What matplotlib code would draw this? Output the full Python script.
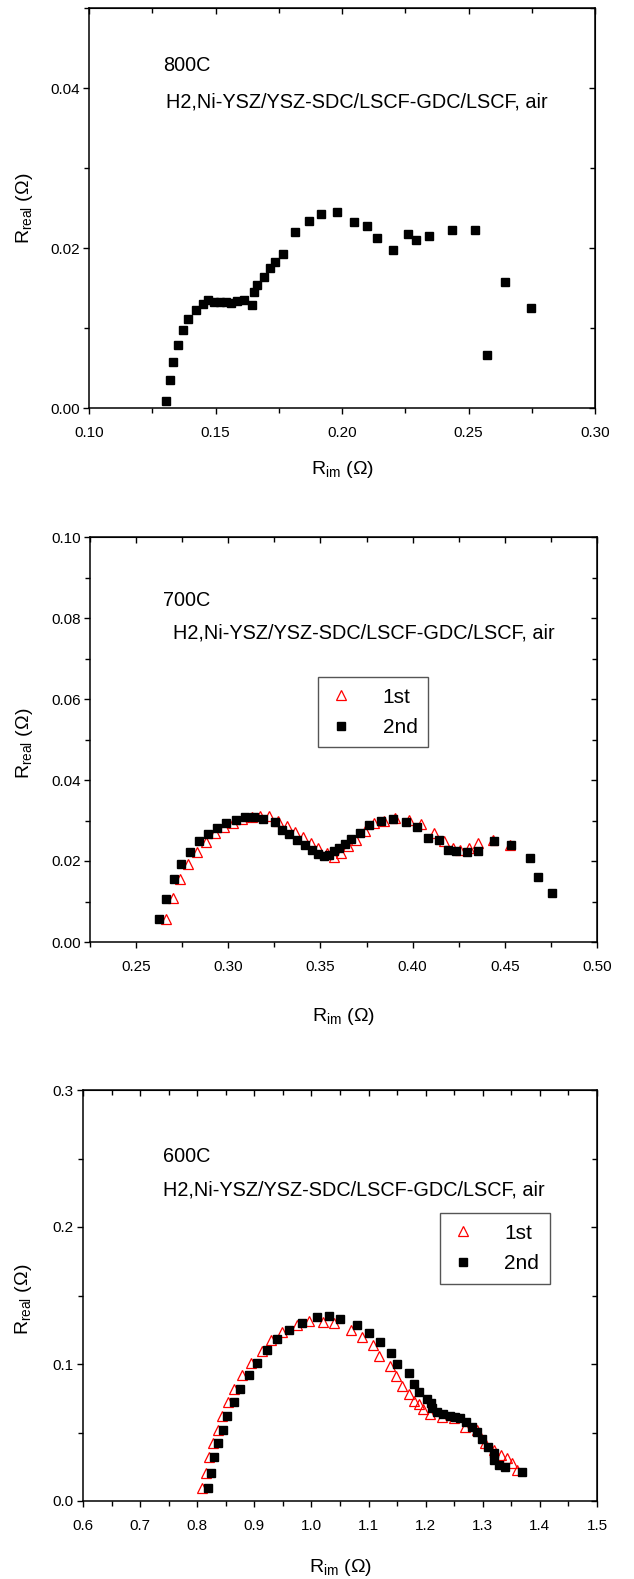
import numpy as np
import matplotlib
matplotlib.use("Agg")
import matplotlib.pyplot as plt
from matplotlib.ticker import MultipleLocator, FormatStrFormatter

plt.rcParams['font.family'] = ['Liberation Sans', 'DejaVu Sans']
plt.rcParams['mathtext.fontset'] = 'custom'
plt.rcParams['mathtext.rm'] = 'Liberation Sans'
plt.rcParams['mathtext.it'] = 'Liberation Sans:italic'

cell = "H2,Ni-YSZ/YSZ-SDC/LSCF-GDC/LSCF, air"

# 800C, single run
x800 = [0.1303, 0.1321, 0.1332, 0.1353, 0.1373, 0.1393, 0.1422, 0.1450, 0.1472,
        0.1496, 0.1519, 0.1541, 0.1561, 0.1585, 0.1614, 0.1644, 0.1653, 0.1664,
        0.1693, 0.1716, 0.1737, 0.1765, 0.1816, 0.1868, 0.1918, 0.1979, 0.2048,
        0.2097, 0.2139, 0.2201, 0.2262, 0.2292, 0.2343, 0.2433, 0.2524, 0.2573,
        0.2644, 0.2747]
y800 = [0.0009, 0.0035, 0.0058, 0.0079, 0.0097, 0.0111, 0.0123, 0.0130, 0.0135,
        0.0133, 0.0133, 0.0133, 0.0131, 0.0134, 0.0135, 0.0129, 0.0145, 0.0154,
        0.0164, 0.0175, 0.0182, 0.0193, 0.0220, 0.0234, 0.0243, 0.0245, 0.0233,
        0.0228, 0.0213, 0.0198, 0.0218, 0.0210, 0.0215, 0.0223, 0.0223, 0.0066,
        0.0158, 0.0125]

# 700C, first and second run
x700_1 = [0.2663, 0.2702, 0.2738, 0.2784, 0.2833, 0.2880, 0.2929, 0.2977, 0.3028,
          0.3077, 0.3126, 0.3173, 0.3222, 0.3272, 0.3321, 0.3364, 0.3408, 0.3449,
          0.3489, 0.3535, 0.3575, 0.3611, 0.3652, 0.3694, 0.3743, 0.3792, 0.3846,
          0.3906, 0.3978, 0.4046, 0.4114, 0.4169, 0.4218, 0.4259, 0.4304, 0.4355,
          0.4436, 0.4530]
y700_1 = [0.0057, 0.0109, 0.0156, 0.0193, 0.0223, 0.0246, 0.0268, 0.0284, 0.0294,
          0.0304, 0.0308, 0.0312, 0.0310, 0.0299, 0.0286, 0.0272, 0.0259, 0.0244,
          0.0233, 0.0220, 0.0210, 0.0220, 0.0238, 0.0253, 0.0274, 0.0293, 0.0300,
          0.0305, 0.0301, 0.0292, 0.0268, 0.0249, 0.0233, 0.0226, 0.0233, 0.0244,
          0.0253, 0.0239]
x700_2 = [0.2625, 0.2664, 0.2706, 0.2746, 0.2795, 0.2843, 0.2892, 0.2941, 0.2985,
          0.3042, 0.3091, 0.3140, 0.3191, 0.3254, 0.3294, 0.3332, 0.3374, 0.3415,
          0.3453, 0.3484, 0.3517, 0.3544, 0.3571, 0.3600, 0.3631, 0.3665, 0.3716,
          0.3764, 0.3826, 0.3893, 0.3965, 0.4025, 0.4084, 0.4144, 0.4193, 0.4235,
          0.4294, 0.4352, 0.4443, 0.4535, 0.4636, 0.4678, 0.4756]
y700_2 = [0.0057, 0.0107, 0.0156, 0.0193, 0.0223, 0.0249, 0.0267, 0.0282, 0.0295,
          0.0302, 0.0308, 0.0308, 0.0304, 0.0296, 0.0277, 0.0266, 0.0252, 0.0239,
          0.0228, 0.0217, 0.0212, 0.0216, 0.0224, 0.0231, 0.0241, 0.0254, 0.0269,
          0.0288, 0.0299, 0.0304, 0.0297, 0.0283, 0.0258, 0.0252, 0.0226, 0.0224,
          0.0221, 0.0224, 0.0249, 0.0240, 0.0207, 0.0160, 0.0120]

# 600C, first and second run
x600_1 = [0.809, 0.815, 0.821, 0.828, 0.836, 0.844, 0.854, 0.864, 0.878, 0.895,
          0.913, 0.930, 0.949, 0.974, 0.996, 1.020, 1.039, 1.069, 1.089, 1.108,
          1.119, 1.138, 1.148, 1.159, 1.170, 1.179, 1.188, 1.196, 1.208, 1.228,
          1.249, 1.269, 1.290, 1.304, 1.319, 1.332, 1.342, 1.351, 1.360]
y600_1 = [0.0098, 0.0202, 0.0319, 0.0426, 0.0518, 0.0623, 0.0720, 0.0818, 0.0920,
          0.1005, 0.1097, 0.1175, 0.1236, 0.1285, 0.1316, 0.1309, 0.1297, 0.1248,
          0.1200, 0.1139, 0.1058, 0.0985, 0.0915, 0.0839, 0.0779, 0.0732, 0.0708,
          0.0669, 0.0635, 0.0616, 0.0603, 0.0542, 0.0518, 0.0426, 0.0372, 0.0336,
          0.0311, 0.0275, 0.0226]
x600_2 = [0.818, 0.824, 0.829, 0.837, 0.845, 0.853, 0.864, 0.875, 0.890, 0.905,
          0.922, 0.940, 0.961, 0.983, 1.010, 1.030, 1.050, 1.080, 1.100, 1.120,
          1.139, 1.150, 1.170, 1.179, 1.189, 1.202, 1.210, 1.211, 1.220, 1.231,
          1.243, 1.252, 1.260, 1.271, 1.281, 1.290, 1.298, 1.310, 1.319, 1.320,
          1.328, 1.339, 1.369]
y600_2 = [0.0097, 0.0202, 0.0324, 0.0426, 0.0518, 0.0623, 0.0720, 0.0820, 0.0922,
          0.1010, 0.1100, 0.1183, 0.1251, 0.1300, 0.1343, 0.1350, 0.1331, 0.1282,
          0.1229, 0.1161, 0.1083, 0.1003, 0.0932, 0.0852, 0.0793, 0.0744, 0.0713,
          0.0676, 0.0647, 0.0635, 0.0623, 0.0615, 0.0603, 0.0579, 0.0542, 0.0504,
          0.0450, 0.0396, 0.0348, 0.0299, 0.0263, 0.0251, 0.0209]

W, H = 634, 1579
fig = plt.figure(figsize=(W / 100, H / 100), dpi=100)


def make_axes(left, right, top, bottom):
    return fig.add_axes([left / W, 1 - bottom / H, (right - left) / W, (bottom - top) / H])


def style(ax, xlim, ylim, xmaj, xmin, ymaj, ymin, xfmt, yfmt):
    ax.set_xlim(*xlim)
    ax.set_ylim(*ylim)
    ax.xaxis.set_major_locator(MultipleLocator(xmaj))
    ax.xaxis.set_minor_locator(MultipleLocator(xmin))
    ax.yaxis.set_major_locator(MultipleLocator(ymaj))
    ax.yaxis.set_minor_locator(MultipleLocator(ymin))
    ax.xaxis.set_major_formatter(FormatStrFormatter(xfmt))
    ax.yaxis.set_major_formatter(FormatStrFormatter(yfmt))
    for s in ax.spines.values():
        s.set_linewidth(1.1)
    # outward ticks on left/bottom, inward on top/right
    ax.tick_params(which='both', direction='out', top=False, right=False, width=1.0, labelsize=11)
    ax.tick_params(which='major', length=4.5)
    ax.tick_params(which='minor', length=3.5)
    ax.tick_params(axis='x', which='major', pad=8.5)
    ax.tick_params(axis='y', which='major', pad=2)
    tw = ax.secondary_xaxis('top')
    tw.xaxis.set_major_locator(MultipleLocator(xmaj))
    tw.xaxis.set_minor_locator(MultipleLocator(xmin))
    tw.tick_params(which='both', direction='in', labeltop=False, width=1.0)
    tw.tick_params(which='major', length=4.5)
    tw.tick_params(which='minor', length=3.5)
    tr = ax.secondary_yaxis('right')
    tr.yaxis.set_major_locator(MultipleLocator(ymaj))
    tr.yaxis.set_minor_locator(MultipleLocator(ymin))
    tr.tick_params(which='both', direction='in', labelright=False, width=1.0)
    tr.tick_params(which='major', length=4.5)
    tr.tick_params(which='minor', length=3.5)
    ax.set_xlabel('R$_{\\rm im}$ (Ω)', fontsize=14, va='center')
    ax.set_ylabel('R$_{\\rm real}$ (Ω)', fontsize=14, va='center')


sq = dict(marker='s', color='black', markersize=6, linestyle='none')
tri = dict(marker='^', markerfacecolor='none', markeredgecolor='red',
           markeredgewidth=0.9, markersize=6.5, linestyle='none')
txt = 14.3

# 800C
ax1 = make_axes(89, 595, 8, 408)
style(ax1, (0.10, 0.30), (0.0, 0.05), 0.05, 0.025, 0.02, 0.01, '%.2f', '%.2f')
ax1.plot(x800, y800, **sq)
ax1.text(0.146, 0.857, '800C', transform=ax1.transAxes, fontsize=txt, va='center')
ax1.text(0.152, 0.765, cell, transform=ax1.transAxes, fontsize=txt, va='center')
ax1.xaxis.set_label_coords(0.5, -0.155)
ax1.yaxis.set_label_coords(-0.128, 0.5)

# 700C
ax2 = make_axes(90, 597, 537, 942)
style(ax2, (0.225, 0.50), (0.0, 0.10), 0.05, 0.025, 0.02, 0.01, '%.2f', '%.2f')
ax2.plot(x700_1, y700_1, label='1st', **tri)
ax2.plot(x700_2, y700_2, label='2nd', **sq)
ax2.text(0.144, 0.844, '700C', transform=ax2.transAxes, fontsize=txt, va='center')
ax2.text(0.164, 0.763, cell, transform=ax2.transAxes, fontsize=txt, va='center')
ax2.xaxis.set_label_coords(0.5, -0.185)
ax2.yaxis.set_label_coords(-0.13, 0.49)

# 600C
ax3 = make_axes(83, 597, 1090, 1501)
style(ax3, (0.6, 1.5), (0.0, 0.3), 0.1, 0.05, 0.1, 0.05, '%.1f', '%.1f')
ax3.plot(x600_1, y600_1, label='1st', **tri)
ax3.plot(x600_2, y600_2, label='2nd', **sq)
ax3.text(0.156, 0.837, '600C', transform=ax3.transAxes, fontsize=txt, va='center')
ax3.text(0.156, 0.756, cell, transform=ax3.transAxes, fontsize=txt, va='center')
ax3.xaxis.set_label_coords(0.5, -0.163)
ax3.yaxis.set_label_coords(-0.115, 0.49)

for ax, anchor in ((ax2, (0.450, 0.654)), (ax3, (0.694, 0.700))):
    leg = ax.legend(loc='upper left', bbox_to_anchor=anchor, fontsize=15,
                    fancybox=False, framealpha=1, edgecolor='#555555',
                    handletextpad=1.4, borderpad=0.5, labelspacing=0.55,
                    handlelength=1.2, borderaxespad=0)
    leg.get_frame().set_linewidth(1.0)

fig.savefig('out.png', dpi=100)
